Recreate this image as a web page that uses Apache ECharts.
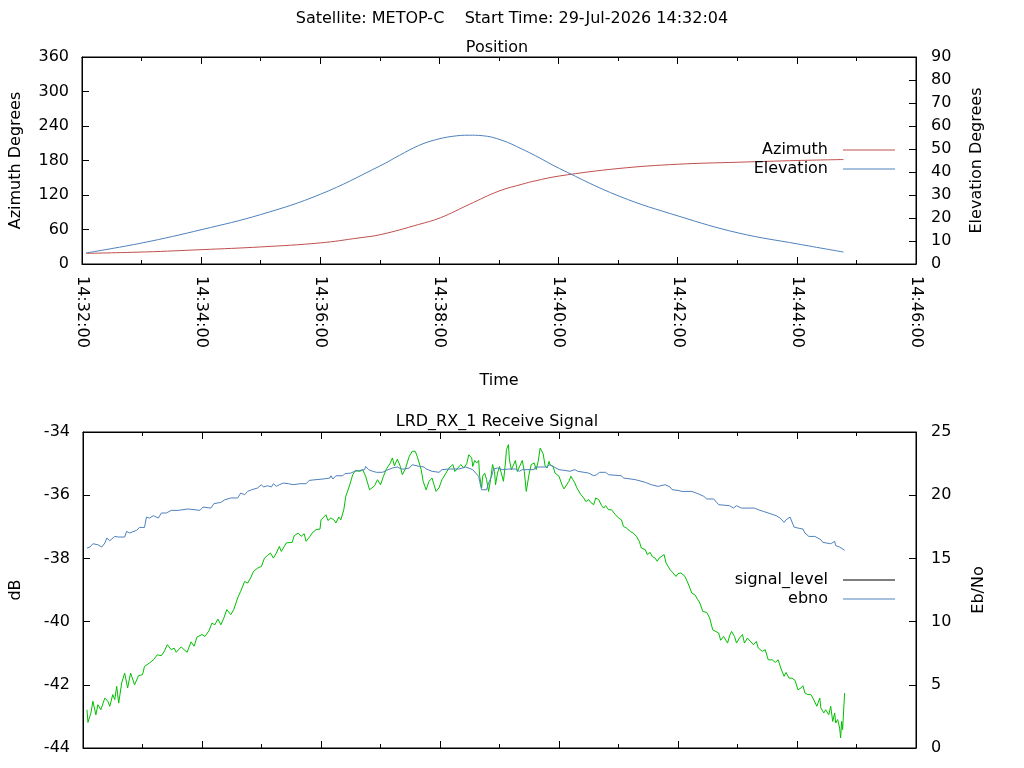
<!DOCTYPE html>
<html>
<head>
<meta charset="utf-8">
<script src="https://cdn.jsdelivr.net/npm/echarts@6/dist/echarts.min.js"></script>
<style>
html,body{margin:0;padding:0;background:#fff;}
#chart{width:1024px;height:768px;}
</style>
</head>
<body>
<div id="chart"></div>
<script>
// Time values are seconds after 14:32:00
var timeLabels = ['14:32:00','14:34:00','14:36:00','14:38:00','14:40:00','14:42:00','14:44:00','14:46:00'];

var elevTime = [4, 61, 121, 180, 240, 300, 320, 339, 356, 373, 390, 403, 423, 443, 457, 481, 541, 601, 661, 721, 767];
var elevation = [4.8, 9.2, 15.0, 21.5, 30.3, 42.6, 47.3, 51.5, 54.0, 55.5, 56.0, 55.8, 53.8, 50.0, 47.0, 41.5, 29.5, 20.8, 13.5, 8.7, 5.2];

var azTime = [4, 64, 121, 180, 240, 279, 301, 339, 361, 390, 420, 443, 456, 481, 540, 600, 661, 721, 767];
var azimuth = [18.5, 21, 25, 29.7, 36.7, 45.4, 51.2, 68.7, 80.4, 103.6, 126.9, 138.6, 144.4, 153.1, 166, 173.5, 177, 180, 181.7];

var sigTime = [4,5,8,10,13,15,18,22,25,27,30,32,34,36,39,42,45,48,52,56,60,62,67,71,75,79,82,85,89,92,94,99,102,105,109,112,115,120,123,127,130,133,136,139,142,145,149,152,156,159,163,166,169,172,176,180,183,186,189,192,195,198,
200,202,205,211,213,217,220,223,225,229,231,235,239,240,242,245,247,250,253,255,258,260,263,265,269,272,275,279,282,285,289,291,294,297,300,303,306,310,312,314,317,320,322,325,329,332,335,337,341,343,346,347,349,352,354,356,359,362,366,369,373,375,378,381,384,387,389,
390,392,393,395,397,399,400,402,403,405,407,409,411,413,415,416,418,420,422,424,426,427,429,430,432,435,436,438,440,443,445,447,450,452,455,457,459,461,464,466,468,470,471,474,476,478,480,483,485,487,490,492,494,496,498,500,502,505,507,510,512,515,517,520,523,525,527,530,533,535,537,540,543,545,548,552,555,558,561,563,567,569,572,574,577,579,581,583,
586,588,590,592,595,598,600,603,605,607,610,612,614,617,620,622,625,629,632,635,637,641,643,646,648,650,652,654,657,659,662,665,667,670,672,676,679,681,685,688,691,695,698,701,704,707,709,712,715,718,721,724,726,728,731,734,736,738,740,743,744,747,749,752,754,756,758,759,761,763,764,765,766,768];
var signalLevel = [-42.79,-43.19,-42.89,-42.52,-42.95,-42.63,-42.79,-42.42,-42.52,-42.68,-42.31,-42.47,-42.05,-42.58,-41.94,-41.63,-42.10,-41.63,-42.0,-41.71,-41.68,-41.42,-41.31,-41.21,-41.05,-41.08,-40.94,-40.73,-40.89,-40.84,-40.97,-40.80,-40.89,-40.97,-40.64,-40.78,-40.49,-40.41,-40.47,-40.29,-40.05,-40.10,-39.92,-40.10,-39.89,-39.62,-39.78,-39.62,-39.25,-39.04,-38.73,-38.78,-38.62,-38.41,-38.31,-38.25,-37.99,-37.91,-37.83,-37.99,-37.83,-37.62,
-37.78,-37.72,-37.51,-37.49,-37.28,-37.20,-37.30,-37.22,-37.46,-37.30,-37.20,-37.09,-37.07,-36.78,-36.72,-36.62,-36.80,-36.72,-36.78,-36.88,-36.69,-36.78,-36.46,-36.04,-35.67,-35.35,-35.21,-35.25,-35.19,-35.40,-35.83,-35.88,-35.70,-35.51,-35.67,-35.40,-35.17,-34.98,-34.82,-35.07,-34.86,-35.09,-35.35,-35.17,-34.77,-34.61,-34.61,-34.77,-35.19,-35.56,-35.83,-35.88,-35.56,-35.46,-35.67,-35.88,-35.77,-35.51,-35.30,-35.14,-35.03,-35.25,-35.14,-35.03,-35.14,-35.00,-34.72,
-34.69,-34.82,-35.09,-34.90,-34.98,-34.90,-35.40,-35.77,-35.40,-35.30,-35.51,-35.88,-35.51,-35.03,-35.25,-35.67,-35.30,-35.09,-35.03,-35.56,-34.98,-34.56,-34.40,-34.88,-35.19,-34.98,-34.90,-35.25,-35.19,-34.90,-35.25,-35.88,-35.30,-35.03,-34.98,-35.19,-34.93,-34.51,-34.69,-35.07,-35.14,-34.93,-35.03,-35.09,-35.30,-35.30,-35.40,-35.67,-35.80,-35.80,-35.56,-35.40,-35.51,-35.61,-35.77,-35.83,-35.98,-36.09,-36.20,-36.14,-36.23,-36.30,-36.09,-36.14,-36.33,-36.41,-36.33,-36.46,-36.46,-36.41,-36.62,-36.72,-36.78,-36.99,-37.04,-37.15,-37.20,-37.30,-37.46,-37.67,-37.72,-37.88,-37.81,-37.94,-37.99,-38.09,-37.99,-38.04,
-37.88,-38.15,-38.25,-38.36,-38.46,-38.57,-38.48,-38.46,-38.41,-38.57,-38.78,-38.94,-39.10,-39.15,-39.31,-39.41,-39.68,-39.71,-39.89,-40.26,-40.31,-40.36,-40.59,-40.47,-40.41,-40.68,-40.45,-40.31,-40.47,-40.68,-40.52,-40.41,-40.68,-40.52,-40.49,-40.73,-40.63,-40.84,-40.94,-40.89,-41.21,-41.21,-41.29,-41.21,-41.50,-41.73,-41.61,-41.79,-41.79,-41.86,-42.16,-42.10,-42.03,-42.26,-42.31,-42.31,-42.42,-42.37,-42.68,-42.42,-42.73,-42.89,-42.79,-42.95,-42.68,-43.16,-42.89,-43.21,-43.10,-43.37,-43.68,-43.16,-43.42,-42.26];

var ebnoTime = [4,7,10,15,19,22,24,27,32,36,42,44,47,54,57,62,64,67,71,76,79,84,89,96,106,118,121,129,132,139,143,149,156,159,163,166,170,176,180,182,186,190,192,
195,198,202,207,212,219,225,228,235,242,249,250,252,255,262,264,270,274,279,284,285,288,292,296,298,302,306,307,312,317,321,324,329,332,339,344,346,352,359,362,369,379,386,
393,396,399,400,402,407,409,412,414,418,423,430,436,440,443,455,456,468,470,474,480,486,491,496,499,510,515,518,521,527,530,543,545,557,567,573,580,
587,592,594,600,604,606,609,614,620,626,629,636,641,652,656,659,664,677,681,686,693,699,703,707,709,713,715,717,721,726,728,732,738,744,746,754,758,759,763,768];
var ebno = [15.82,15.90,16.16,16.08,15.90,16.21,16.61,16.40,16.74,16.69,16.69,17.14,17.01,17.22,17.45,17.45,18.27,18.19,18.38,18.19,18.59,18.59,18.80,18.80,18.91,18.80,19.06,18.98,19.33,19.43,19.64,19.78,19.78,20.17,20.04,20.30,20.43,20.57,20.83,20.65,20.75,20.65,20.91,
20.70,20.83,20.96,20.91,20.83,20.91,20.91,21.17,21.23,21.28,21.36,21.54,21.28,21.54,21.54,21.70,21.75,21.89,21.96,22.02,22.28,22.02,21.89,21.81,21.96,21.81,21.96,22.07,22.15,22.23,22.07,22.07,22.15,22.41,22.28,22.23,22.07,21.89,21.81,22.02,22.07,22.07,22.23,
22.02,21.75,21.49,21.09,20.43,20.43,20.96,21.49,22.07,22.15,22.02,22.07,22.07,21.89,22.02,22.02,22.23,22.23,22.41,22.28,22.02,21.96,21.89,22.02,21.89,21.75,21.54,21.62,21.81,21.81,21.62,21.54,21.36,21.23,21.02,20.83,20.70,
20.83,20.65,20.44,20.38,20.30,20.17,20.30,20.30,20.12,19.91,19.70,19.70,19.25,19.17,18.98,19.17,18.98,18.98,18.85,18.72,18.54,18.38,18.19,17.85,18.06,18.27,18.19,17.48,17.40,17.32,17.01,16.74,16.74,16.48,16.27,16.16,16.35,16.01,15.90,15.64];

function zip(a, b) { return a.map(function (v, i) { return [v, b[i]]; }); }

var FONT = 'DejaVu Sans';
var chart = echarts.init(document.getElementById('chart'), null, {renderer: 'canvas'});

function xAx(grid, pos, labels) {
  return {
    type: 'value', gridIndex: grid, position: pos, min: 0, max: 840, interval: 120,
    axisLine: {show: true, onZero: false, lineStyle: {color: '#000', width: 1}},
    axisTick: {show: true, inside: true, length: 7, lineStyle: {color: '#000'}},
    minorTick: {show: true, splitNumber: 2, length: 4, lineStyle: {color: '#000'}},
    splitLine: {show: false},
    minorSplitLine: {show: false},
    axisLabel: labels ? {
      show: true, rotate: -90, margin: 12, fontSize: 16, fontFamily: FONT, color: '#000',
      formatter: function (v) { return timeLabels[Math.round(v / 120)]; }
    } : {show: false}
  };
}
function yAx(grid, pos, min, max, interval, name, gap, margin) {
  return {
    type: 'value', gridIndex: grid, position: pos, min: min, max: max, interval: interval,
    name: name, nameLocation: 'middle', nameGap: gap, nameRotate: 90,
    nameTextStyle: {fontSize: 16, fontFamily: FONT, color: '#000'},
    axisLine: {show: true, onZero: false, lineStyle: {color: '#000', width: 1}},
    axisTick: {show: true, inside: true, length: 7, lineStyle: {color: '#000'}},
    minorTick: {show: false},
    splitLine: {show: false},
    axisLabel: {show: true, margin: margin, fontSize: 16, fontFamily: FONT, color: '#000'}
  };
}
function leg(name, top, col) {
  return {
    data: [{name: name, icon: 'rect', itemStyle: {color: col, borderWidth: 0}}],
    right: 129, top: top, padding: 0, align: 'right', orient: 'vertical',
    itemWidth: 52, itemHeight: 1, itemGap: 0, selectedMode: false,
    textStyle: {fontSize: 16, fontFamily: FONT, color: '#000', padding: [0, 10, 0, 0]}
  };
}

var option = {
  animation: false,
  backgroundColor: '#fff',
  textStyle: {fontFamily: FONT, color: '#000'},
  title: [
    {text: 'Satellite: METOP-C    Start Time: 29-Jul-2026 14:32:04', left: 507, textAlign: 'center', top: 6,
     textStyle: {fontSize: 16, fontWeight: 'normal', fontFamily: FONT, color: '#000'}},
    {text: 'Position', left: 492, textAlign: 'center', top: 35,
     textStyle: {fontSize: 16, fontWeight: 'normal', fontFamily: FONT, color: '#000'}},
    {text: 'LRD_RX_1 Receive Signal', left: 492, textAlign: 'center', top: 409,
     textStyle: {fontSize: 16, fontWeight: 'normal', fontFamily: FONT, color: '#000'}}
  ],
  legend: [
    leg('Azimuth', 142, '#c0504d'),
    leg('Elevation', 161, '#4f81bd'),
    leg('signal_level', 572, '#000'),
    leg('ebno', 591, '#4f81bd')
  ],
  grid: [
    {left: 80, top: 57, width: 836, height: 207, show: true, borderColor: '#000', borderWidth: 1, backgroundColor: 'transparent'},
    {left: 80, top: 432, width: 836, height: 316, show: true, borderColor: '#000', borderWidth: 1, backgroundColor: 'transparent'}
  ],
  xAxis: [
    Object.assign(xAx(0, 'bottom', true), {name: 'Time', nameLocation: 'middle', nameGap: 109,
      nameTextStyle: {fontSize: 16, fontFamily: FONT, color: '#000'}}),
    xAx(0, 'top', false),
    xAx(1, 'bottom', false),
    xAx(1, 'top', false)
  ],
  yAxis: [
    yAx(0, 'left', 0, 360, 60, 'Azimuth Degrees', 58, 13),
    yAx(0, 'right', 0, 90, 10, 'Elevation Degrees', 53, 15),
    yAx(1, 'left', -44, -34, 2, 'dB', 59, 13),
    yAx(1, 'right', 0, 25, 5, 'Eb/No', 55, 15)
  ],
  series: [
    {name: 'Azimuth', type: 'line', xAxisIndex: 0, yAxisIndex: 0, data: zip(azTime, azimuth),
     smooth: 0.4, symbol: 'none', color: '#c0504d', lineStyle: {width: 1, color: '#c0504d'}},
    {name: 'Elevation', type: 'line', xAxisIndex: 0, yAxisIndex: 1, data: zip(elevTime, elevation),
     smooth: 0.4, symbol: 'none', color: '#4f81bd', lineStyle: {width: 1, color: '#4f81bd'}},
    {name: 'signal_level', type: 'line', xAxisIndex: 2, yAxisIndex: 2, data: zip(sigTime, signalLevel),
     symbol: 'none', color: '#00c000', lineStyle: {width: 1, color: '#00c000'}},
    {name: 'ebno', type: 'line', xAxisIndex: 2, yAxisIndex: 3, data: zip(ebnoTime, ebno),
     symbol: 'none', color: '#4f81bd', lineStyle: {width: 1, color: '#4f81bd'}}
  ]
};
chart.setOption(option);
</script>
</body>
</html>
